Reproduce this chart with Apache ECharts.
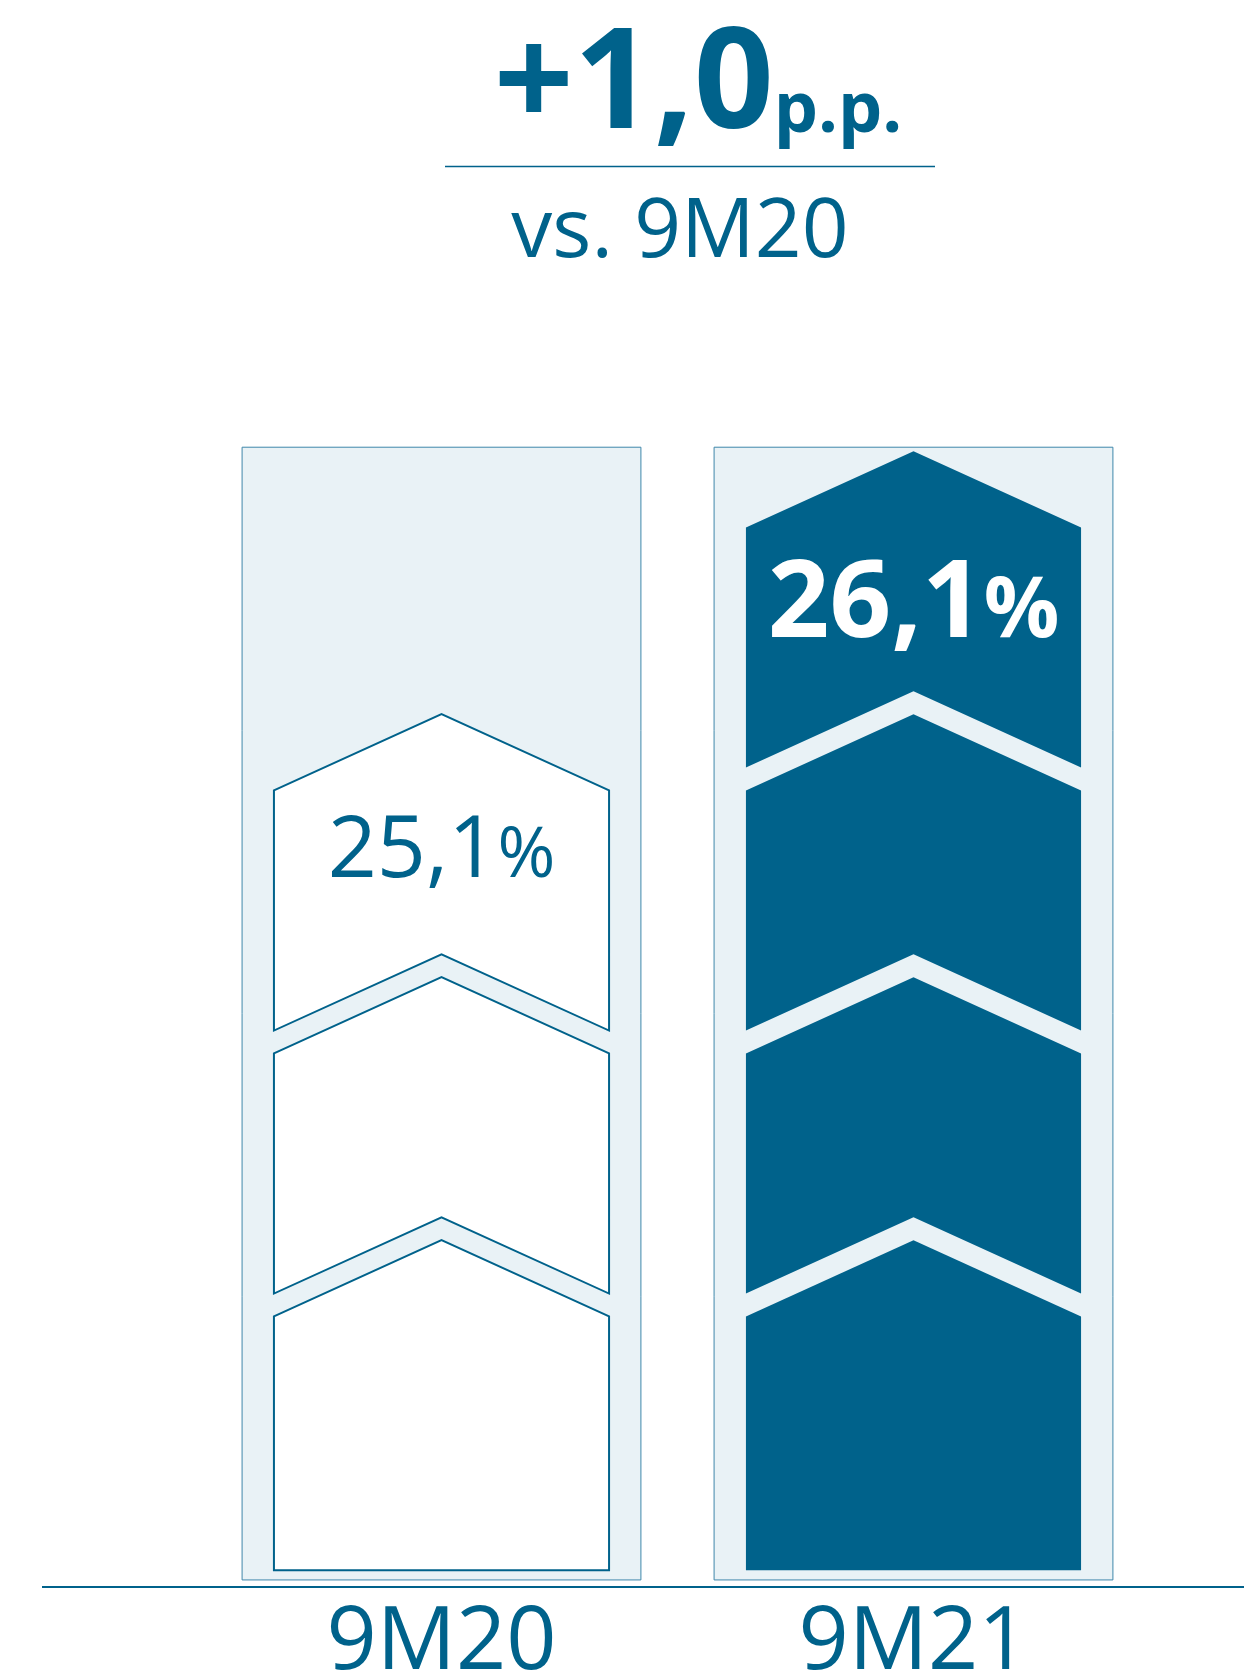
<!DOCTYPE html>
<html>
<head>
<meta charset="utf-8">
<title>9M20 vs 9M21</title>
<script src="https://cdn.jsdelivr.net/npm/echarts@6/dist/echarts.min.js"></script>
<style>
  html, body { margin: 0; padding: 0; background: #fff; }
  #chart { width: 1244px; height: 1672px; }
</style>
</head>
<body>
<div id="chart"></div>
<script>
// data
const categories = ['9M20', '9M21'];
const values = [25.1, 26.1];
const steps = [3, 4];          // chevrons stacked in each column
const delta = '+1,0';
const deltaUnit = 'p.p.';
const compareText = 'vs. 9M20';

const BLUE = '#00628b';
const PALE = '#e9f2f6';

// chevron geometry, in y-axis units
const BASE = 0.06;
const PEAK_OFFSET = 0.315;
const SHOULDER = 0.29;
const GAP = 0.087;
const BOX_TOP = 4.33;
const BOX_BOTTOM = 0.023;

const fmt = v => v.toFixed(1).replace('.', ',');

const chart = echarts.init(document.getElementById('chart'));

function renderColumn(params, api) {
  const cat = api.value(0);
  const n = api.value(1);
  const val = api.value(2);
  const band = api.size([1, 0])[0];
  const cx = api.coord([cat, 0])[0];
  const y = v => api.coord([cat, v])[1];
  const bw = band * 0.845;
  const w = band * 0.71;
  const last = params.dataIndex === categories.length - 1;
  const peak = k => k + PEAK_OFFSET;

  const children = [{
    type: 'rect',
    shape: { x: cx - bw / 2, y: y(BOX_TOP), width: bw, height: y(BOX_BOTTOM) - y(BOX_TOP) },
    style: { fill: PALE, stroke: '#3f87ab', lineWidth: 1 }
  }];

  for (let k = 1; k <= n; k++) {
    const pts = [
      [cx - w / 2, y(peak(k) - SHOULDER)],
      [cx, y(peak(k))],
      [cx + w / 2, y(peak(k) - SHOULDER)]
    ];
    if (k === 1) {
      pts.push([cx + w / 2, y(BASE)], [cx - w / 2, y(BASE)]);
    } else {
      pts.push(
        [cx + w / 2, y(peak(k - 1) - SHOULDER + GAP)],
        [cx, y(peak(k - 1) + GAP)],
        [cx - w / 2, y(peak(k - 1) - SHOULDER + GAP)]
      );
    }
    children.push({
      type: 'polygon',
      shape: { points: pts },
      style: last ? { fill: BLUE } : { fill: '#fff', stroke: BLUE, lineWidth: 2 }
    });
  }

  // value label inside the top chevron
  children.push({
    type: 'text',
    x: cx,
    y: y(peak(n) - (last ? 0.59 : 0.525)),
    style: {
      text: '{n|' + fmt(val) + '}{p|%}',
      align: 'center',
      verticalAlign: 'middle',
      rich: last ? {
        n: { fontFamily: 'Open Sans', fontWeight: 'bold', fontSize: 108, lineHeight: 108, fill: '#fff', verticalAlign: 'bottom' },
        p: { fontFamily: 'Open Sans', fontWeight: 'bold', fontSize: 84, fill: '#fff', verticalAlign: 'bottom', padding: [0, 0, 5, 0] }
      } : {
        n: { fontFamily: 'Open Sans', fontSize: 86, lineHeight: 86, fill: BLUE, verticalAlign: 'bottom' },
        p: { fontFamily: 'Open Sans', fontSize: 70, fill: BLUE, verticalAlign: 'bottom', padding: [0, 0, 3, 0] }
      }
    }
  });

  return { type: 'group', children: children };
}

chart.setOption({
  backgroundColor: '#fff',
  animation: false,
  title: [{
    text: '{a|' + delta + '}{b|' + deltaUnit + '}',
    left: 698,
    top: 18,
    padding: 0,
    textAlign: 'center',
    textStyle: {
      rich: {
        a: { fontFamily: 'Open Sans', fontWeight: 'bold', fontSize: 140, lineHeight: 140, color: BLUE, verticalAlign: 'bottom' },
        b: { fontFamily: 'Open Sans', fontWeight: 'bold', fontSize: 70, color: BLUE, verticalAlign: 'bottom', padding: [0, 0, 11, 0] }
      }
    }
  }, {
    text: compareText,
    left: 680,
    top: 193,
    padding: 0,
    textAlign: 'center',
    textStyle: { fontFamily: 'Open Sans', fontWeight: 'normal', fontSize: 82, lineHeight: 82, color: BLUE }
  }],
  graphic: [
    { type: 'line', shape: { x1: 445, y1: 166.5, x2: 935, y2: 166.5 }, style: { stroke: BLUE, lineWidth: 1.5 } },
    { type: 'line', shape: { x1: 42, y1: 1587, x2: 1244, y2: 1587 }, style: { stroke: BLUE, lineWidth: 2 } }
  ],
  grid: { left: 205.5, right: 94.5, top: 271, bottom: 86, outerBoundsMode: 'none' },
  xAxis: {
    type: 'category',
    data: categories,
    axisLine: { show: false },
    axisTick: { show: false },
    axisLabel: { margin: 14, fontFamily: 'Open Sans', fontSize: 88, lineHeight: 88, color: BLUE }
  },
  yAxis: {
    type: 'value',
    min: 0,
    max: 5,
    show: false
  },
  series: [{
    type: 'custom',
    renderItem: renderColumn,
    clip: false,
    data: categories.map((c, i) => [i, steps[i], values[i]])
  }]
});
</script>
</body>
</html>
